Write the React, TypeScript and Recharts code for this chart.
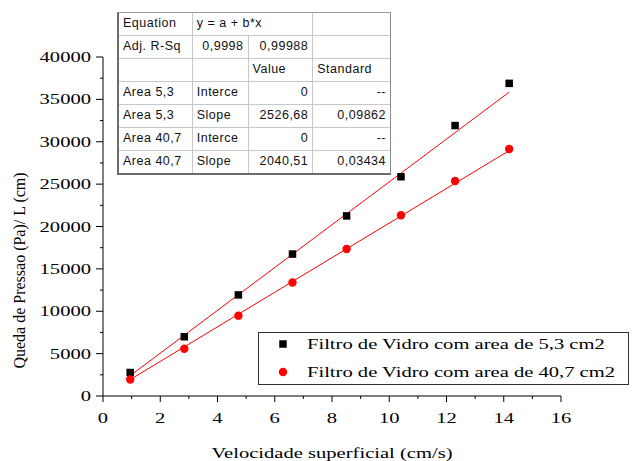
import { Scatter, ScatterChart, XAxis, YAxis } from 'recharts'

// superficial velocity (cm/s), shared by both filters
const VELOCITY = [0.95, 2.84, 4.73, 6.62, 8.51, 10.41, 12.3, 14.19]
// pressure drop per length, Pa/cm
const AREA_53 = [2770, 6990, 11930, 16750, 21250, 25870, 31910, 36890]
const AREA_407 = [1940, 5570, 9480, 13390, 17340, 21330, 25360, 29150]
// fitted slopes (intercept fixed at 0)
const SLOPE_53 = 2526.68
const SLOPE_407 = 2040.51

const SERIES_NAMES = ['Filtro de Vidro com area de 5,3 cm2', 'Filtro de Vidro com area de 40,7 cm2']
const X_TITLE = 'Velocidade superficial (cm/s)'
const Y_TITLE = 'Queda de Pressao (Pa)/ L (cm)'

const X_TICKS = [0, 1, 2, 3, 4, 5, 6, 7, 8, 9, 10, 11, 12, 13, 14, 15, 16]
const Y_TICKS = [
  0, 2500, 5000, 7500, 10000, 12500, 15000, 17500, 20000, 22500, 25000, 27500, 30000, 32500, 35000, 37500,
  40000,
]

const TABLE_ROWS = [
  ['Equation', 'y = a + b*x', '', ''],
  ['Adj. R-Sq', '0,9998', '0,99988', ''],
  ['', '', 'Value', 'Standard'],
  ['Area 5,3', 'Interce', '0', '--'],
  ['Area 5,3', 'Slope', '2526,68', '0,09862'],
  ['Area 40,7', 'Interce', '0', '--'],
  ['Area 40,7', 'Slope', '2040,51', '0,03434'],
]

const SERIF = '"Liberation Serif", "Times New Roman", serif'
const SANS = '"Liberation Sans", Arial, sans-serif'
const STRETCH = 1.47
const RED = '#ff0000'

const squares = VELOCITY.map((x, i) => ({ x, y: AREA_53[i] }))
const circles = VELOCITY.map((x, i) => ({ x, y: AREA_407[i] }))
const first = VELOCITY[0]
const last = VELOCITY[VELOCITY.length - 1]
const fit53 = [
  { x: first, y: SLOPE_53 * first },
  { x: last, y: SLOPE_53 * last },
]
const fit407 = [
  { x: first, y: SLOPE_407 * first },
  { x: last, y: SLOPE_407 * last },
]

function XTick({ x, y, payload }: any) {
  const major = payload.value % 2 === 0
  return (
    <g>
      <line x1={x} x2={x} y1={y} y2={y + (major ? 6 : 3)} stroke="#000" />
      {major && (
        <text
          transform={`translate(${x},${y + 27}) scale(${STRETCH},1)`}
          textAnchor="middle"
          fontFamily={SERIF}
          fontSize={14}
          fill="#000"
        >
          {payload.value}
        </text>
      )}
    </g>
  )
}

function YTick({ x, y, payload }: any) {
  const major = payload.value % 5000 === 0
  return (
    <g>
      <line x1={x - (major ? 7 : 3)} x2={x} y1={y} y2={y} stroke="#000" />
      {major && (
        <text
          transform={`translate(${x - 12},${y + 5}) scale(${STRETCH},1)`}
          textAnchor="end"
          fontFamily={SERIF}
          fontSize={14}
          fill="#000"
        >
          {payload.value}
        </text>
      )}
    </g>
  )
}

function XTitle({ viewBox }: any) {
  return (
    <text
      transform={`translate(${viewBox.x + viewBox.width / 2},${viewBox.y + 62}) scale(${STRETCH},1)`}
      textAnchor="middle"
      fontFamily={SERIF}
      fontSize={14}
      fill="#000"
    >
      {X_TITLE}
    </text>
  )
}

function YTitle({ viewBox }: any) {
  return (
    <text
      transform={`translate(${viewBox.x + viewBox.width - 78},${viewBox.y + viewBox.height / 2 + 44}) rotate(-90)`}
      textAnchor="middle"
      fontFamily={SERIF}
      fontSize={16}
      fill="#000"
    >
      {Y_TITLE}
    </text>
  )
}

const SquareDot = ({ cx, cy }: any) => <rect x={cx - 3.75} y={cy - 3.75} width={7.5} height={7.5} fill="#000" />
const RoundDot = ({ cx, cy }: any) => <circle cx={cx} cy={cy} r={4.2} fill={RED} />
const NoDot = () => <g />

const COL_WIDTHS = [74, 56, 65, 77]

function isNumeric(s: string) {
  return /^[0-9,.-]+$/.test(s)
}

function FitTable() {
  return (
    <div
      style={{
        position: 'absolute',
        left: 117,
        top: 12,
        boxSizing: 'border-box',
        width: 274,
        background: '#fff',
        borderTop: '1px solid #9a9a9a',
        borderRight: '1px solid #8a8a8a',
        borderLeft: '2px solid #6a6a6a',
        borderBottom: '2px solid #6a6a6a',
        fontFamily: SANS,
        fontSize: 12.5,
        letterSpacing: 0.5,
        color: '#111',
      }}
    >
      {TABLE_ROWS.map((row, r) => (
        <div key={r} style={{ display: 'flex', height: 22, borderTop: r > 0 ? '1px solid #c8c8c8' : 'none' }}>
          {row.map((cell, c) => {
            if (r === 0 && c === 2) return null
            const width = r === 0 && c === 1 ? COL_WIDTHS[1] + COL_WIDTHS[2] : COL_WIDTHS[c]
            const right = isNumeric(cell) && cell !== ''
            return (
              <div
                key={c}
                style={{
                  boxSizing: 'border-box',
                  width,
                  lineHeight: '21px',
                  padding: '0 4px',
                  textAlign: right ? 'right' : 'left',
                  borderRight: c < 3 ? '1px solid #c8c8c8' : 'none',
                  whiteSpace: 'nowrap',
                  overflow: 'hidden',
                }}
              >
                {cell}
              </div>
            )
          })}
        </div>
      ))}
    </div>
  )
}

function SeriesLegend() {
  return (
    <svg
      width={371}
      height={53}
      style={{ position: 'absolute', left: 258, top: 332, overflow: 'visible' }}
    >
      <rect x={0.5} y={0.5} width={370} height={52} fill="#fff" stroke="#333" />
      <rect x={21.25} y={8.25} width={7.5} height={7.5} fill="#000" />
      <circle cx={25} cy={40} r={4.2} fill={RED} />
      {SERIES_NAMES.map((name, i) => (
        <text
          key={name}
          transform={`translate(49,${17 + i * 28}) scale(${STRETCH},1)`}
          fontFamily={SERIF}
          fontSize={14}
          fill="#000"
        >
          {name}
        </text>
      ))}
    </svg>
  )
}

export default function App() {
  return (
    <div style={{ position: 'absolute', left: 0, top: 0, width: 634, height: 461, background: '#fff' }}>
      <ScatterChart width={634} height={461} margin={{ top: 57, right: 73, bottom: 64, left: 102 }}>
        <XAxis
          type="number"
          dataKey="x"
          domain={[0, 16]}
          ticks={X_TICKS}
          interval={0}
          height={1}
          tickSize={0}
          tickMargin={0}
          tickLine={false}
          axisLine={{ stroke: '#000' }}
          tick={(props: any) => <XTick {...props} />}
          label={{ content: (p: any) => <XTitle {...p} /> }}
        />
        <YAxis
          type="number"
          dataKey="y"
          domain={[0, 40000]}
          ticks={Y_TICKS}
          interval={0}
          width={1}
          tickSize={0}
          tickMargin={0}
          tickLine={false}
          axisLine={{ stroke: '#000' }}
          tick={(props: any) => <YTick {...props} />}
          label={{ content: (p: any) => <YTitle {...p} /> }}
        />
        <Scatter data={fit53} line={{ stroke: RED, strokeWidth: 1 }} shape={NoDot} isAnimationActive={false} />
        <Scatter data={fit407} line={{ stroke: RED, strokeWidth: 1 }} shape={NoDot} isAnimationActive={false} />
        <Scatter name={SERIES_NAMES[0]} data={squares} shape={SquareDot} isAnimationActive={false} />
        <Scatter name={SERIES_NAMES[1]} data={circles} shape={RoundDot} isAnimationActive={false} />
      </ScatterChart>
      <FitTable />
      <SeriesLegend />
    </div>
  )
}
